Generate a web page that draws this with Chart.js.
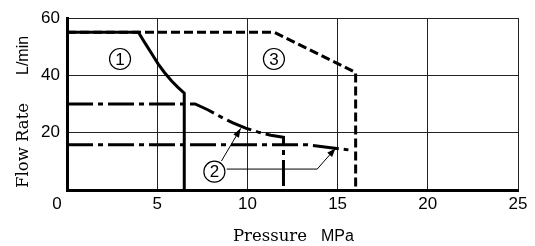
<!DOCTYPE html>
<html>
<head>
<meta charset="utf-8">
<script src="https://cdn.jsdelivr.net/npm/chart.js@4"></script>
<style>
  html, body { margin: 0; padding: 0; background: #fff; }
  #wrap { width: 535px; height: 246px; }
</style>
</head>
<body>
<div id="wrap"><canvas id="chart" width="535" height="246"></canvas></div>
<script>
// axis ranges / ticks
const pressureTicks = [0, 5, 10, 15, 20, 25];
const flowTicks = [0, 20, 40, 60];

// curve 1 (solid)
const curve1P = [0, 3.96, 4.2, 4.45, 4.75, 5.05, 5.4, 5.8, 6.15, 6.5, 6.5];
const curve1Q = [55, 55, 52.5, 50, 47, 44, 41, 38, 35.8, 33.8, 0];

// curve 2, upper branch (dash-dot)
const curve2aP = [0, 7.1, 7.8, 8.5, 9.2, 9.9, 10.6, 11.3, 12, 12];
const curve2aQ = [30, 30, 28, 25.6, 23.4, 21.6, 20.2, 19.1, 18.4, 0];

// curve 2, lower branch (dash-dot)
const curve2bP = [0, 13.3, 15.6];
const curve2bQ = [15.8, 15.8, 14];

// curve 3 (dashed)
const curve3P = [0, 11.5, 16, 16];
const curve3Q = [55, 55, 41, 0];

// labels: [text, pressure, flow]
const markLabels = [['1', 2.94, 45.7], ['2', 8.17, 6.4], ['3', 11.47, 45.7]];
// arrows from label 2: polyline points [pressure, flow], last point = tip
const arrowPaths = [
  [[8.56, 10.1], [9.63, 21.5]],
  [[8.85, 7.3], [13.87, 7.3], [14.89, 14.6]]
];

const toPts = (xs, ys) => xs.map((x, i) => ({ x: x, y: ys[i] }));

const dashDot = [26, 5, 5, 5];

const extras = {
  id: 'extras',
  afterDatasetsDraw(chart) {
    const ctx = chart.ctx;
    const xs = chart.scales.x, ys = chart.scales.y;
    const ca = chart.chartArea;
    ctx.save();
    ctx.fillStyle = '#000';
    ctx.strokeStyle = '#000';

    // circled labels
    markLabels.forEach(([t, p, q]) => {
      const cx = xs.getPixelForValue(p), cy = ys.getPixelForValue(q);
      ctx.fillStyle = '#fff';
      ctx.beginPath();
      ctx.arc(cx, cy, 10.5, 0, Math.PI * 2);
      ctx.fill();
      ctx.lineWidth = 1.2;
      ctx.stroke();
      ctx.fillStyle = '#000';
      ctx.font = '17px "Liberation Sans", Arial, sans-serif';
      ctx.textAlign = 'center';
      ctx.textBaseline = 'middle';
      ctx.fillText(t, cx, cy + 1);
    });

    // leader arrows
    arrowPaths.forEach(path => {
      const pts = path.map(([p, q]) => [xs.getPixelForValue(p), ys.getPixelForValue(q)]);
      ctx.lineWidth = 1;
      ctx.beginPath();
      pts.forEach(([x, y], i) => (i ? ctx.lineTo(x, y) : ctx.moveTo(x, y)));
      ctx.stroke();
      const [x1, y1] = pts[pts.length - 2];
      const [x2, y2] = pts[pts.length - 1];
      const a = Math.atan2(y2 - y1, x2 - x1);
      const L = 9, W = 3.2;
      ctx.beginPath();
      ctx.moveTo(x2, y2);
      ctx.lineTo(x2 - L * Math.cos(a) + W * Math.sin(a), y2 - L * Math.sin(a) - W * Math.cos(a));
      ctx.lineTo(x2 - L * Math.cos(a) - W * Math.sin(a), y2 - L * Math.sin(a) + W * Math.cos(a));
      ctx.closePath();
      ctx.fill();
    });

    // shared origin "0"
    ctx.font = '17px "Liberation Sans", Arial, sans-serif';
    ctx.textAlign = 'center';
    ctx.textBaseline = 'middle';
    ctx.fillText('0', xs.getPixelForValue(0) - 10, ca.bottom + 14);

    // x title
    ctx.textAlign = 'left';
    ctx.textBaseline = 'alphabetic';
    ctx.font = '16.5px "DejaVu Serif", serif';
    ctx.fillText('Pressure', 233, 241);
    ctx.font = '16px "Liberation Sans", Arial, sans-serif';
    ctx.fillText('MPa', 321, 241);

    // y title
    ctx.translate(24, 0);
    ctx.rotate(-Math.PI / 2);
    ctx.textBaseline = 'middle';
    ctx.font = '16.5px "DejaVu Serif", serif';
    ctx.fillText('Flow Rate', -188, 0);
    ctx.font = '16px "Liberation Sans", Arial, sans-serif';
    ctx.fillText('L/min', -75, 0);
    ctx.restore();
  }
};

new Chart(document.getElementById('chart'), {
  type: 'line',
  data: {
    datasets: [
      { data: toPts(curve1P, curve1Q), borderColor: '#000', borderWidth: 3 },
      { data: toPts(curve2aP, curve2aQ), borderColor: '#000', borderWidth: 3, borderDash: dashDot },
      { data: toPts(curve2bP, curve2bQ), borderColor: '#000', borderWidth: 3, borderDash: dashDot },
      { data: toPts(curve3P, curve3Q), borderColor: '#000', borderWidth: 3, borderDash: [9, 4] }
    ]
  },
  options: {
    responsive: false,
    animation: false,
    events: [],
    layout: { padding: { left: 0, top: 18, right: 17, bottom: 0 } },
    elements: { point: { radius: 0 }, line: { tension: 0, fill: false, borderJoinStyle: 'miter' } },
    plugins: { legend: { display: false }, tooltip: { enabled: false } },
    scales: {
      x: {
        type: 'linear',
        min: pressureTicks[0],
        max: pressureTicks[pressureTicks.length - 1],
        afterFit: s => { s.height = 56; },
        afterBuildTicks: s => { s.ticks = pressureTicks.map(v => ({ value: v })); },
        ticks: {
          color: '#000',
          padding: 4,
          font: { family: '"Liberation Sans", Arial, sans-serif', size: 17 },
          callback: v => (v === 0 ? '' : v)
        },
        grid: { color: '#222', lineWidth: 1, drawTicks: false },
        border: { color: '#000', width: 3 }
      },
      y: {
        type: 'linear',
        min: flowTicks[0],
        max: flowTicks[flowTicks.length - 1],
        afterFit: s => { s.width = 67; },
        afterBuildTicks: s => { s.ticks = flowTicks.map(v => ({ value: v })); },
        ticks: {
          color: '#000',
          padding: 7,
          font: { family: '"Liberation Sans", Arial, sans-serif', size: 17 },
          callback: v => (v === 0 ? '' : v)
        },
        grid: { color: '#222', lineWidth: 1, drawTicks: false },
        border: { color: '#000', width: 3 }
      }
    }
  },
  plugins: [extras]
});
</script>
</body>
</html>
